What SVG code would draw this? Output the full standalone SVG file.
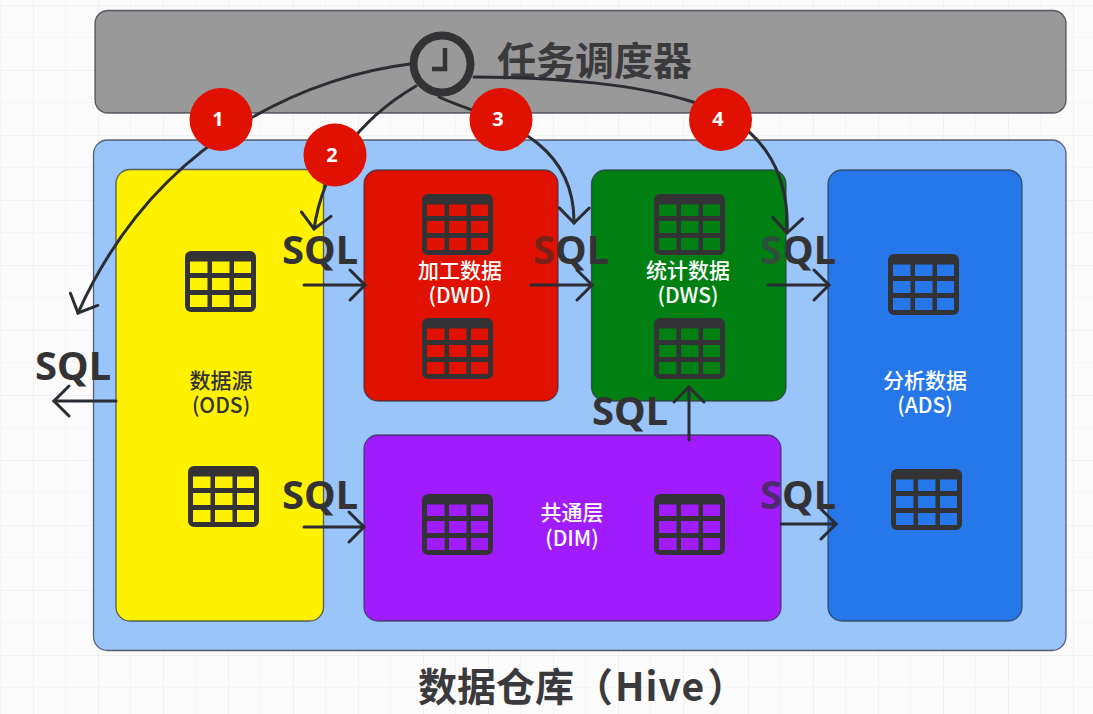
<svg xmlns="http://www.w3.org/2000/svg" width="1093" height="714" viewBox="0 0 1093 714">
<style>
.box{stroke:#2f3440;stroke-opacity:.75;stroke-width:1.3}
.ic{fill:#333336;fill-rule:evenodd}
.cn{fill:none;stroke:#2b2d33;stroke-width:3;stroke-linecap:round}
.sql{font-family:"Noto Sans","Liberation Sans",sans-serif;font-weight:700;font-size:40px;fill:#333336}
.lb{font-family:"Noto Sans CJK SC","Noto Sans",sans-serif;font-size:21px;font-weight:500;text-anchor:middle;fill:#fff}
.big{font-family:"Noto Sans CJK SC","Noto Sans",sans-serif;font-size:39px;font-weight:700;fill:#3a3a3c}
.num{font-family:"Noto Sans","Liberation Sans",sans-serif;font-size:20px;font-weight:700;text-anchor:middle;fill:#fff}
.badge{fill:#e01100}
</style>
<defs>
<pattern id="grid" width="65" height="65" patternUnits="userSpaceOnUse" x="33" y="5">
<path d="M0 0H65M0 0V65" fill="none" stroke="#eeeeee" stroke-width="1.5"/>
<path d="M32.5 0V65M0 32.5H65" fill="none" stroke="#f5f5f5" stroke-width="1"/>
</pattern>
<marker id="arrow" markerUnits="userSpaceOnUse" markerWidth="40" markerHeight="40" refX="20" refY="20" orient="auto" overflow="visible">
<path d="M5 5L20 20L5 35" fill="none" stroke="#2b2d33" stroke-width="3" stroke-linecap="round" stroke-linejoin="miter"/>
</marker>
<g id="tbl"><path class="ic" d="M6 0H65a6 6 0 0 1 6 6V55a6 6 0 0 1 -6 6H6a6 6 0 0 1 -6 -6V6a6 6 0 0 1 6 -6ZM5 10.500V22H22.500V10.500ZM27 10.500V22H44.500V10.500ZM49 10.500V22H66V10.500ZM5 27V39H22.500V27ZM27 27V39H44.500V27ZM49 27V39H66V27ZM5 44V56H22.500V44ZM27 44V56H44.500V44ZM49 44V56H66V44Z"/></g>
<linearGradient id="tintR" gradientUnits="userSpaceOnUse" x1="533" x2="610" y1="0" y2="0"><stop offset="0.32" stop-color="#7a2118"/><stop offset="0.32" stop-color="#333336"/></linearGradient>
<linearGradient id="tintG" gradientUnits="userSpaceOnUse" x1="760" x2="837" y1="0" y2="0"><stop offset="0.34" stop-color="#2d4f38"/><stop offset="0.34" stop-color="#333336"/></linearGradient>
<linearGradient id="tintP" gradientUnits="userSpaceOnUse" x1="760" x2="837" y1="0" y2="0"><stop offset="0.27" stop-color="#4f2a70"/><stop offset="0.27" stop-color="#333336"/></linearGradient>
</defs>
<rect width="1093" height="714" fill="#fbfbfb"/>
<rect width="1093" height="714" fill="url(#grid)"/>
<g id="scheduler">
<rect class="box" x="95" y="10.500" width="971" height="102.500" rx="13" fill="#999999"/>
<circle cx="442" cy="64" r="28.500" fill="none" stroke="#333336" stroke-width="8"/>
<path d="M445 48V69H432" fill="none" stroke="#333336" stroke-width="4.500"/>
<text class="big" x="497" y="75">任务调度器</text>
</g>
<g id="warehouse">
<rect class="box" x="93.500" y="140" width="972.500" height="510.500" rx="14" fill="#9ac5fa"/>
<text class="big" x="418" y="701">数据仓库（<tspan dx="2" letter-spacing="1">Hive</tspan><tspan dx="2">）</tspan></text>
</g>
<g id="ods">
<rect class="box" x="116" y="169.500" width="207.500" height="451.500" rx="14" fill="#fff200"/>
<use href="#tbl" x="185" y="251"/>
<use href="#tbl" x="188" y="466"/>
<text class="lb" x="221" y="388" style="fill:#333336">数据源<tspan x="221" dy="25">(ODS)</tspan></text>
</g>
<g id="dwd">
<rect class="box" x="364" y="170" width="194" height="231" rx="14" fill="#e01100"/>
<use href="#tbl" x="422" y="194"/>
<use href="#tbl" x="422" y="318"/>
<text class="lb" x="460" y="278">加工数据<tspan x="460" dy="25">(DWD)</tspan></text>
</g>
<g id="dws">
<rect class="box" x="591.500" y="170" width="194.500" height="231" rx="14" fill="#008012"/>
<use href="#tbl" x="654" y="194"/>
<use href="#tbl" x="654" y="318"/>
<text class="lb" x="688" y="278">统计数据<tspan x="688" dy="25">(DWS)</tspan></text>
</g>
<g id="dim">
<rect class="box" x="364" y="435" width="417" height="186" rx="14" fill="#a01cff"/>
<use href="#tbl" x="422" y="494"/>
<use href="#tbl" x="654" y="494"/>
<text class="lb" x="572" y="520">共通层<tspan x="572" dy="26">(DIM)</tspan></text>
</g>
<g id="ads">
<rect class="box" x="828" y="170" width="194" height="451" rx="14" fill="#2577ea"/>
<use href="#tbl" x="888" y="254"/>
<use href="#tbl" x="891" y="469"/>
<text class="lb" x="925" y="388">分析数据<tspan x="925" dy="25">(ADS)</tspan></text>
</g>
<g id="connectors">
<path class="cn" marker-end="url(#arrow)" d="M410 64C320 75 160 130 78 313"/>
<path class="cn" marker-end="url(#arrow)" d="M416 86C350 125 322 175 314 229"/>
<path class="cn" marker-end="url(#arrow)" d="M439 97C480 117 575 130 574 223"/>
<path class="cn" marker-end="url(#arrow)" d="M474 77C560 77 640 85 693 102C760 122 790 170 787 233"/>
<path class="cn" marker-end="url(#arrow)" d="M304 285H365"/>
<path class="cn" marker-end="url(#arrow)" d="M531 285H592"/>
<path class="cn" marker-end="url(#arrow)" d="M768 285H829"/>
<path class="cn" marker-end="url(#arrow)" d="M116 401H54"/>
<path class="cn" marker-end="url(#arrow)" d="M304 527H364"/>
<path class="cn" marker-end="url(#arrow)" d="M781 524H836"/>
<path class="cn" marker-end="url(#arrow)" d="M689 440V387"/>
<text class="sql" x="35" y="380">SQL</text>
<text class="sql" x="282" y="264">SQL</text>
<text class="sql" x="282" y="509">SQL</text>
<text class="sql" x="533" y="264" style="fill:url(#tintR)">SQL</text>
<text class="sql" x="760" y="264" style="fill:url(#tintG)">SQL</text>
<text class="sql" x="760" y="509" style="fill:url(#tintP)">SQL</text>
<text class="sql" x="592" y="425">SQL</text>
</g>
<g id="step1"><circle class="badge" cx="221" cy="119.500" r="31.500"/><text class="num" x="218" y="126">1</text></g>
<g id="step2"><circle class="badge" cx="335" cy="155" r="31.500"/><text class="num" x="332" y="162">2</text></g>
<g id="step3"><circle class="badge" cx="501" cy="119.500" r="31.500"/><text class="num" x="498" y="126">3</text></g>
<g id="step4"><circle class="badge" cx="720.500" cy="119.500" r="31.500"/><text class="num" x="718" y="126">4</text></g>
</svg>
